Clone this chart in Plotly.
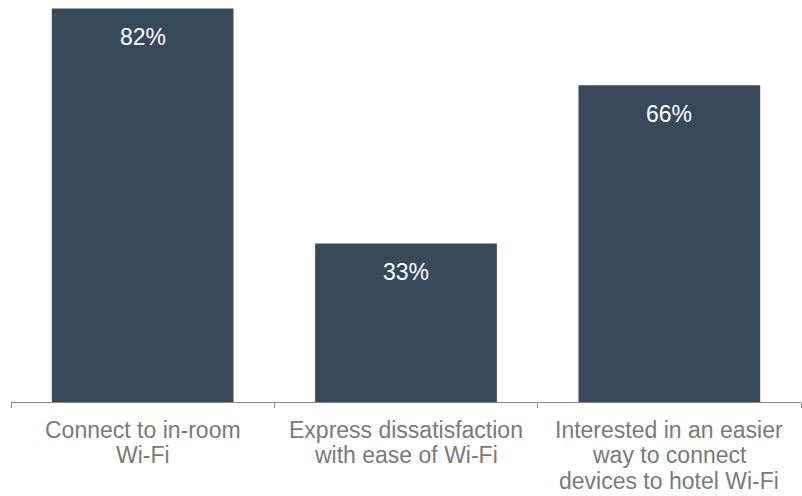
import plotly.graph_objects as go

# Survey results: share of hotel guests per Wi-Fi statement
categories = ["connect", "dissatisfied", "interested"]
category_lines = [
    ["Connect to in-room", "Wi-Fi"],
    ["Express dissatisfaction", "with ease of Wi-Fi"],
    ["Interested in an easier", "way to connect", "devices to hotel Wi-Fi"],
]
values = [82, 33, 66]
value_labels = ["82%", "33%", "66%"]

BAR_COLOR = "#384a59"
LABEL_GRAY = "#7a7a7a"
FONT = "Liberation Sans, Arial, sans-serif"

fig = go.Figure(
    go.Bar(
        x=categories,
        y=values,
        marker=dict(color=BAR_COLOR, line=dict(width=0)),
        hoverinfo="skip",
    )
)

annotations = []
# Value labels sit near the top inside each bar
for cat, val, lab in zip(categories, values, value_labels):
    annotations.append(
        dict(
            x=cat, y=val, xref="x", yref="y",
            text=lab, showarrow=False,
            yanchor="middle", yshift=-28.5,
            font=dict(family=FONT, size=23, color="#ffffff"),
        )
    )

# Category labels below the axis, one annotation per line
LINE_STEP = 25.9
for cat, lines in zip(categories, category_lines):
    for i, line in enumerate(lines):
        annotations.append(
            dict(
                x=cat, y=0, xref="x", yref="paper",
                text=line, showarrow=False,
                yanchor="middle", yshift=-27.5 - LINE_STEP * i,
                font=dict(family=FONT, size=23, color=LABEL_GRAY),
            )
        )

fig.update_layout(
    width=802,
    height=496,
    margin=dict(l=11, r=1, t=0, b=94),
    paper_bgcolor="#ffffff",
    plot_bgcolor="#ffffff",
    bargap=0.31,
    showlegend=False,
    annotations=annotations,
    xaxis=dict(
        type="category",
        range=[-0.5, 2.5],
        showticklabels=False,
        showline=True,
        linecolor="#888888",
        linewidth=1,
        ticks="outside",
        tickson="boundaries",
        ticklen=5,
        tickcolor="#888888",
        tickwidth=1,
        showgrid=False,
        zeroline=False,
        fixedrange=True,
    ),
    yaxis=dict(
        range=[0, 83.75],
        visible=False,
        showgrid=False,
        zeroline=False,
        fixedrange=True,
    ),
)

fig.write_html("out.html", config={"displayModeBar": False})
